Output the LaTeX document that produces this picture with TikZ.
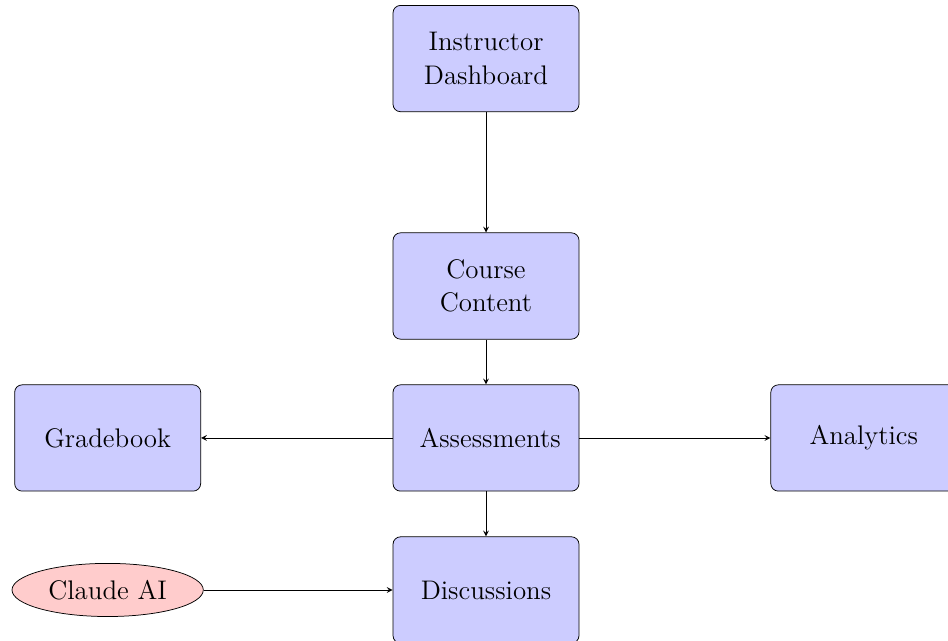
\documentclass[tikz,border=0pt]{standalone}
\usepackage{amsmath}
\usepackage{tikz}
\usetikzlibrary{shapes.geometric}

\tikzset{
    modulo/.style={rectangle, rounded corners, draw=black, fill=blue!20,
        minimum width=3.5cm, minimum height=2cm, text width=2.5cm,
        align=center, font=\Large},
    esterno/.style={ellipse, draw=black, fill=red!20,
        minimum width=3.6cm, minimum height=1cm, font=\Large}
}

\begin{document}
\begin{tikzpicture}[>=stealth]
    \useasboundingbox (-9.146,-3.820) rectangle (8.694,8.242);
    % Moduli del corso
    \node[modulo] (dashboard) at (0,7.14) {Instructor Dashboard};
    \node[modulo] (contenuto) at (0,2.86) {Course Content};
    \node[modulo] (verifiche) at (0,0) {Assessments};
    \node[modulo] (voti) at (-7.12,0) {Gradebook};
    \node[modulo] (analisi) at (7.11,0) {Analytics};
    \node[modulo] (discussioni) at (0,-2.86) {Discussions};
    % Servizio esterno
    \node[esterno] (claude) at (-7.12,-2.86) {Claude AI};
    % Collegamenti
    \draw[->] (dashboard) -- (contenuto);
    \draw[->] (contenuto) -- (verifiche);
    \draw[->] (verifiche) -- (voti);
    \draw[->] (verifiche) -- (analisi);
    \draw[->] (verifiche) -- (discussioni);
    \draw[->] (claude) -- (discussioni);
\end{tikzpicture}
\end{document}
